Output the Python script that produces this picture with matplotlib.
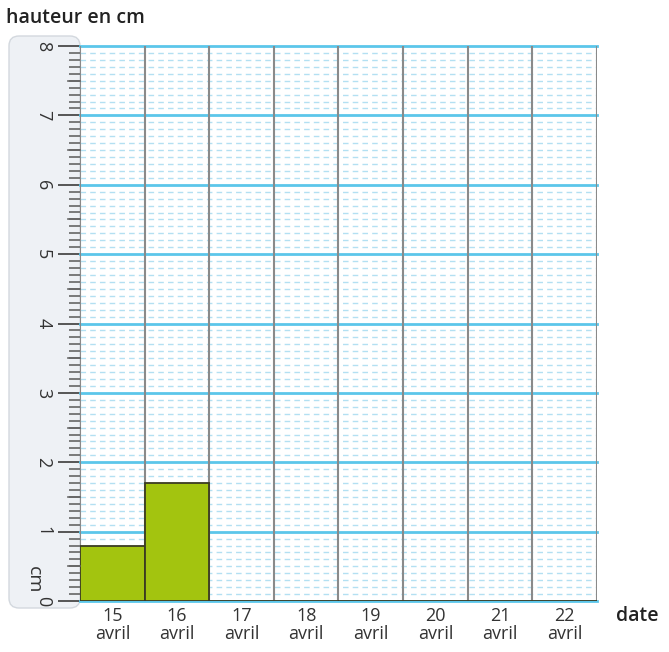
import matplotlib
matplotlib.use("Agg")
import matplotlib.pyplot as plt
from matplotlib.patches import FancyBboxPatch
from matplotlib.transforms import blended_transform_factory
import numpy as np

days = ["15", "16", "17", "18", "19", "20", "21", "22"]
month = "avril"
heights = [0.8, 1.7, 0, 0, 0, 0, 0, 0]
y_ticks = [0, 1, 2, 3, 4, 5, 6, 7, 8]

plt.rcParams['font.family'] = ['Open Sans', 'DejaVu Sans']

W, H = 669, 652
fig = plt.figure(figsize=(W / 100, H / 100), dpi=100)
L, R, T, B = 80, 597, 46, 601
ax = fig.add_axes([L / W, 1 - B / H, (R - L) / W, (B - T) / H])
ax.set_zorder(2)
ax.patch.set_alpha(0)

# ruler background
ruler = FancyBboxPatch((9 / W, 1 - 608 / H), (L - 9) / W, (608 - 36) / H,
                       boxstyle="round,pad=0,rounding_size=0.015",
                       transform=fig.transFigure, facecolor="#eef1f5",
                       edgecolor="#d3d8de", lw=1, zorder=-5)
fig.patches.append(ruler)

n = len(days)
ax.set_xlim(-0.5, n - 0.5)
ax.set_ylim(0, 8)

# minor dashed grid
for v in np.arange(0.1, 8, 0.1):
    if abs(v - round(v)) > 1e-6:
        ax.axhline(v, color="#b3e0f2", lw=1, ls=(0, (4, 3)), zorder=1)
for v in y_ticks:
    ax.axhline(v, color="#5cc6ea", lw=2, zorder=2, clip_on=False)
for k in range(n + 1):
    ax.axvline(k - 0.5, color="#8a8a8a", lw=1.5, zorder=2)

ax.bar(range(n), heights, width=1.0, color="#a3c40f", edgecolor="#3b3b22",
       lw=1.3, zorder=3)

for s in ax.spines.values():
    s.set_visible(False)

ax.set_xticks(range(n))
ax.set_xticklabels([f"{d}\n{month}" for d in days], fontsize=13,
                   color="#333333", linespacing=1.0)
ax.tick_params(axis="x", length=0, pad=4)

ax.set_yticks(y_ticks)
ax.set_yticklabels([str(v) for v in y_ticks], rotation=-90, fontsize=13,
                   color="#333333", va="center")
ax.set_yticks(np.arange(0, 8.01, 0.1), minor=True)
ax.tick_params(axis="y", which="major", length=16, width=1.4, color="#555555", pad=4)
ax.tick_params(axis="y", which="minor", length=8, width=1.2, color="#666666")
tr = blended_transform_factory(fig.transFigure, ax.transData)
for v in np.arange(0.5, 8, 1.0):
    ax.plot([(L - 12) / W, L / W], [v, v], transform=tr, color="#666666",
            lw=1.2, clip_on=False, zorder=5)

fig.text(34 / W, 1 - 580 / H, "cm", rotation=-90, fontsize=14,
         color="#333333", ha="center", va="center")
fig.text(6 / W, 1 - 18 / H, "hauteur en cm", fontsize=14, fontweight="semibold",
         color="#222222", ha="left", va="center")
fig.text(637 / W, 1 - 616 / H, "date", fontsize=14, fontweight="semibold",
         color="#222222", ha="center", va="center")

fig.savefig("out.png", dpi=100)
